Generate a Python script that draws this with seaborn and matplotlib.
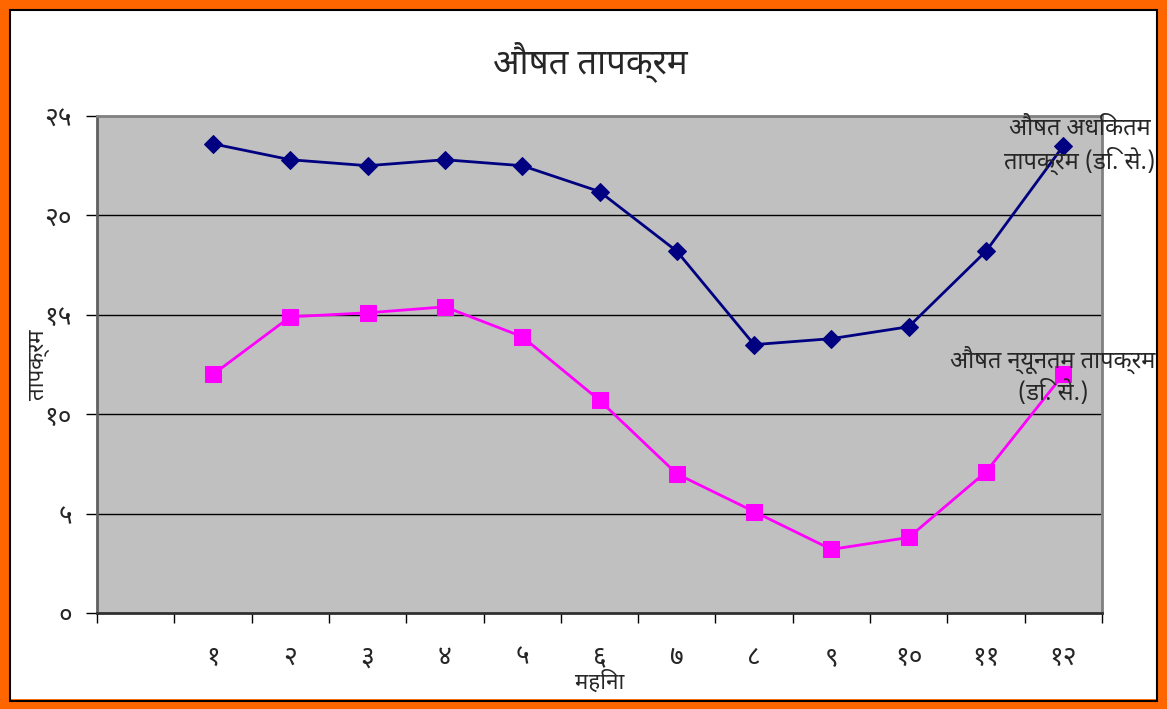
import numpy as np
import pandas as pd
import matplotlib
matplotlib.use("Agg")
import matplotlib.pyplot as plt
from matplotlib.patches import Rectangle
import seaborn as sns

# Datos
mahina = list(range(1, 13))
mahina_lbl = ['१', '२', '३', '४', '५', '६', '७', '८', '९', '१०', '११', '१२']
adhiktam = [23.6, 22.8, 22.5, 22.8, 22.5, 21.2, 18.2, 13.5, 13.8, 14.4, 18.2, 23.5]
nyuntam = [12.0, 14.9, 15.1, 15.4, 13.9, 10.7, 7.0, 5.1, 3.2, 3.8, 7.1, 12.0]
y_ticks = [0, 5, 10, 15, 20, 25]
y_lbl = ['०', '५', '१०', '१५', '२०', '२५']

df = pd.DataFrame({'mahina': mahina, 'adhiktam': adhiktam, 'nyuntam': nyuntam})

sns.set_style("white")
plt.rcParams['font.family'] = ['Noto Sans Devanagari', 'Lohit Devanagari', 'Noto Sans',
                               'FreeSans', 'DejaVu Sans']

fig = plt.figure(figsize=(11.67, 7.09), dpi=100)
ax = fig.add_axes([97 / 1167, 1 - 613 / 709, 1005 / 1167, 497 / 709])
ax.set_facecolor('#C0C0C0')

sns.lineplot(data=df, x='mahina', y='adhiktam', ax=ax, color='#000080', lw=2,
             marker='D', markersize=9, markeredgecolor='#000080')
sns.lineplot(data=df, x='mahina', y='nyuntam', ax=ax, color='#FF00FF', lw=2,
             marker='s', markersize=11, markeredgecolor='#FF00FF')

ax.set_xlim(-0.5, 12.5)
ax.set_ylim(0, 25)
ax.set_yticks(y_ticks)
ax.set_yticklabels(y_lbl, fontsize=19)
for v in y_ticks[1:-1]:
    ax.axhline(v, color='black', lw=1, zorder=1)

ax.set_xticks(np.arange(-0.5, 13, 1), minor=True)
ax.set_xticks(mahina)
ax.set_xticklabels(mahina_lbl, fontsize=19)
ax.tick_params(axis='x', which='major', length=0, pad=22)
ax.tick_params(axis='x', which='minor', length=7, width=1, color='black', direction='out', bottom=True)
ax.tick_params(axis='y', length=8, width=1, color='black', direction='out', left=True, pad=10)

for s in ['top', 'right']:
    ax.spines[s].set_color('#808080')
    ax.spines[s].set_linewidth(2)
ax.spines['left'].set_color('#606060')
ax.spines['left'].set_linewidth(2)
ax.spines['bottom'].set_color('#303030')
ax.spines['bottom'].set_linewidth(2)

ax.set_xlabel('महिना', fontsize=16)
ax.xaxis.set_label_coords(0.5, -0.115)
ax.set_ylabel('तापक्रम', fontsize=16)
ax.yaxis.set_label_coords(-0.047, 0.5)

fig.text(590 / 1167, 1 - 62 / 709, 'औषत तापक्रम', fontsize=25, ha='center', va='center')
fig.text(1080 / 1167, 1 - 146 / 709, 'औषत अधिकतम\nतापक्रम (डि. से.)', fontsize=17,
         ha='center', va='center', multialignment='center', linespacing=1.3)
fig.text(1053 / 1167, 1 - 376 / 709, 'औषत न्यूनतम तापक्रम\n(डि. से.)', fontsize=17,
         ha='center', va='center', multialignment='center', linespacing=1.3)

# Borde naranja
fig.add_artist(Rectangle((0, 0), 1, 1, transform=fig.transFigure, fill=False,
                         edgecolor='#FF6600', linewidth=15))
fig.add_artist(Rectangle((10 / 1167, 8 / 709), 1147 / 1167, 691 / 709, transform=fig.transFigure,
                         fill=False, edgecolor='black', linewidth=1.5))

fig.savefig('out.png', dpi=100)
plt.close()
